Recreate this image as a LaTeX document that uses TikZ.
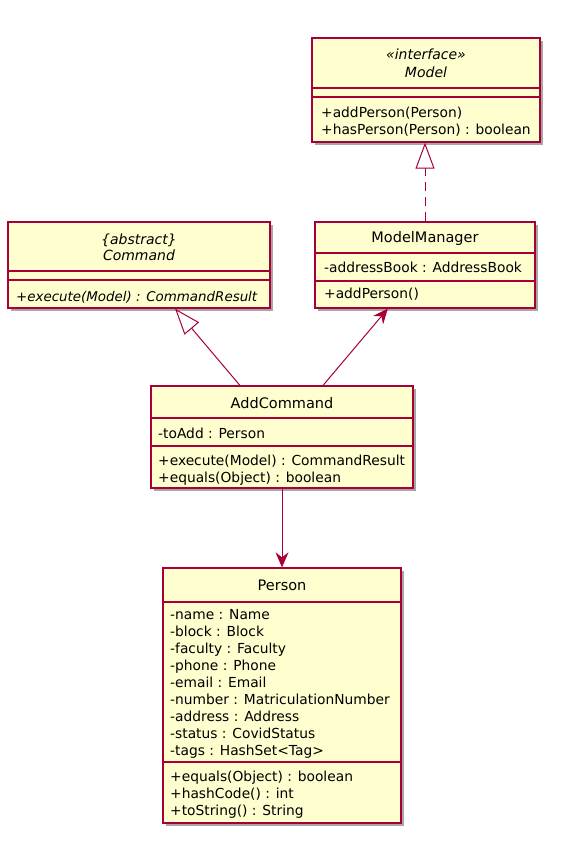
\documentclass[tikz,border=0pt]{standalone}
\usepackage{fontspec}
\setmainfont{DejaVu Sans}
\usepackage{tikz}
\usetikzlibrary{positioning,arrows.meta,calc,shadows}
\definecolor{umlred}{HTML}{A80036}
\definecolor{umlfill}{HTML}{FEFECE}

\begin{document}
\begin{tikzpicture}[x=1pt,y=-1pt,
    classbox/.style={draw=umlred,fill=umlfill,line width=1.3pt,inner sep=0,
        drop shadow={shadow xshift=3pt,shadow yshift=-3pt,opacity=0.35,fill=black}},
    divider/.style={draw=umlred,line width=1.2pt},
    cname/.style={font=\fontsize{14.5}{17}\selectfont,anchor=base,inner sep=0},
    cnameit/.style={font=\fontsize{14}{17}\selectfont\itshape,anchor=base,inner sep=0},
    member/.style={font=\fontsize{13.8}{17}\selectfont,anchor=base west,inner sep=0},
    memberit/.style={font=\fontsize{13.4}{17}\selectfont\itshape,anchor=base west,inner sep=0},
    realize/.style={draw=umlred,line width=1pt,dash pattern=on 9pt off 6pt,
        -{Triangle[open,fill=white,length=26pt,width=19pt]}},
    extend/.style={draw=umlred,line width=1pt,-{Triangle[open,fill=white,length=26pt,width=19pt]}},
    assoc/.style={draw=umlred,line width=1pt,-{Stealth[length=15pt,width=13pt,inset=5pt]}}]
    \useasboundingbox (0,0) rectangle (570,847);

    \node[classbox,minimum width=228pt,minimum height=104pt] (model) at (426,90) {};
    \node[cnameit] (modelst) at (426,59) {«interface»};
    \node[cnameit] (modelname) at (426,77) {Model};
    \draw[divider] (model.west |- 0,88) -- (model.east |- 0,88);
    \draw[divider] (model.west |- 0,97) -- (model.east |- 0,97);
    \node[member] (modelm1) at (321,117) {+addPerson(Person)};
    \node[member] (modelm2) at (321,134) {+hasPerson(Person) : boolean};

    \node[classbox,minimum width=262pt,minimum height=86pt] (command) at (139,265) {};
    \node[cnameit] (commandst) at (139,244) {\{abstract\}};
    \node[cnameit] (commandname) at (139,260) {Command};
    \draw[divider] (command.west |- 0,271) -- (command.east |- 0,271);
    \draw[divider] (command.west |- 0,280) -- (command.east |- 0,280);
    \node[memberit] (commandm1) at (16,301) {+execute(Model) : CommandResult};

    \node[classbox,minimum width=220pt,minimum height=86pt] (manager) at (425,265) {};
    \node[cname] (managername) at (425,242) {ModelManager};
    \draw[divider] (manager.west |- 0,253) -- (manager.east |- 0,253);
    \draw[divider] (manager.west |- 0,281) -- (manager.east |- 0,281);
    \node[member] (managera1) at (324,272) {-addressBook : AddressBook};
    \node[member] (managerm1) at (324,298) {+addPerson()};

    \node[classbox,minimum width=262pt,minimum height=102pt] (addcmd) at (282,437) {};
    \node[cname] (addcmdname) at (282,408) {AddCommand};
    \draw[divider] (addcmd.west |- 0,418) -- (addcmd.east |- 0,418);
    \draw[divider] (addcmd.west |- 0,446) -- (addcmd.east |- 0,446);
    \node[member] (addcmda1) at (158,438) {-toAdd : Person};
    \node[member] (addcmdm1) at (158,465) {+execute(Model) : CommandResult};
    \node[member] (addcmdm2) at (158,482) {+equals(Object) : boolean};

    \node[classbox,minimum width=238pt,minimum height=255pt] (person) at (282,695.5) {};
    \node[cname] (personname) at (282,590) {Person};
    \draw[divider] (person.west |- 0,602) -- (person.east |- 0,602);
    \draw[divider] (person.west |- 0,762) -- (person.east |- 0,762);
    \foreach \txt [count=\i] in {-name : Name,-block : Block,-faculty : Faculty,
        -phone : Phone,-email : Email,-number : MatriculationNumber,
        -address : Address,-status : CovidStatus,-tags : HashSet<Tag>}
        \node[member] (persona\i) at (170,602+17*\i) {\txt};
    \node[member] (personm1) at (170,781) {+equals(Object) : boolean};
    \node[member] (personm2) at (170,798) {+hashCode() : int};
    \node[member] (personm3) at (170,815) {+toString() : String};

    \draw[realize] (manager.north) -- (manager.north |- model.south);
    \draw[extend] ($(addcmd.north west)!0.34!(addcmd.north east)$) -- ($(command.south west)!0.637!(command.south east)$);
    \draw[assoc] ($(addcmd.north west)!0.656!(addcmd.north east)$) -- ($(manager.south west)!0.332!(manager.south east)$);
    \draw[assoc] (addcmd.south) -- (person.north);
\end{tikzpicture}
\end{document}
